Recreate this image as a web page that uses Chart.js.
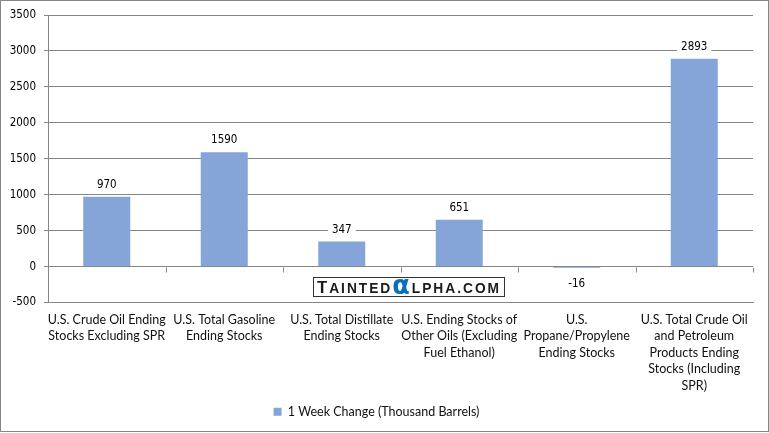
<!DOCTYPE html>
<html>
<head>
<meta charset="utf-8">
<script src="https://cdn.jsdelivr.net/npm/chart.js@4"></script>
<style>
  html, body { margin: 0; padding: 0; background: #fff; }
  #wrap { width: 769px; height: 433px; }
</style>
</head>
<body>
<div id="wrap"><canvas id="stocksChart"></canvas></div>
<script>
const categories = [
  ["U.S. Crude Oil Ending", "Stocks Excluding SPR"],
  ["U.S. Total Gasoline", "Ending Stocks"],
  ["U.S. Total Distillate", "Ending Stocks"],
  ["U.S. Ending Stocks of", "Other Oils (Excluding", "Fuel Ethanol)"],
  ["U.S.", "Propane/Propylene", "Ending Stocks"],
  ["U.S. Total Crude Oil", "and Petroleum", "Products Ending", "Stocks (Including", "SPR)"]
];
const weekChange = [970, 1590, 347, 651, -16, 2893];
const seriesName = "1 Week Change (Thousand Barrels)";
const yMin = -500;
const yMax = 3500;
const yStep = 500;

const gridGrey = "#868686";
const numFont = "'DejaVu Sans Condensed', 'DejaVu Sans', sans-serif";
const catFont = "Lato, 'Open Sans', sans-serif";

// white background + thin frame round the whole picture
const frame = {
  id: "frame",
  beforeDraw(chart) {
    const c = chart.ctx;
    c.save();
    c.fillStyle = "#fff";
    c.fillRect(0, 0, chart.width, chart.height);
    c.strokeStyle = gridGrey;
    c.lineWidth = 1;
    c.strokeRect(0.5, 0.5, chart.width - 1, chart.height - 2);
    c.restore();
  }
};

// small tick marks under the zero line, at the category boundaries
const zeroTicks = {
  id: "zeroTicks",
  afterDraw(chart) {
    const x = chart.scales.x, y = chart.scales.y;
    const y0 = Math.round(y.getPixelForValue(0)) + 0.5;
    const half = (x.getPixelForValue(1) - x.getPixelForValue(0)) / 2;
    const c = chart.ctx;
    c.save();
    c.strokeStyle = gridGrey;
    c.lineWidth = 1;
    c.beginPath();
    for (let i = 1; i <= categories.length; i++) {
      const px = Math.round(x.getPixelForValue(i) - half) + 0.5;
      c.moveTo(px, y0);
      c.lineTo(px, y0 + 5);
    }
    c.stroke();
    c.restore();
  }
};

// value labels with a white box, like Excel
const valueLabels = {
  id: "valueLabels",
  afterDatasetsDraw(chart) {
    const c = chart.ctx;
    const meta = chart.getDatasetMeta(0);
    c.save();
    c.font = "11.5px " + numFont;
    c.textAlign = "center";
    c.textBaseline = "middle";
    meta.data.forEach((bar, i) => {
      const v = weekChange[i];
      const ty = v >= 0 ? bar.y - 12 : bar.y + 16;
      const txt = String(v);
      const w = c.measureText(txt).width + 8;
      c.fillStyle = "#fff";
      c.fillRect(bar.x - w / 2, ty - 7, w, 14);
      c.fillStyle = "#000";
      c.fillText(txt, bar.x, ty);
    });
    c.restore();
  }
};

// TaintedAlpha watermark box
const watermark = {
  id: "watermark",
  afterDraw(chart) {
    const c = chart.ctx;
    const bx = 313, by = 277, bw = 192, bh = 20;
    c.save();
    c.fillStyle = "#fff";
    c.fillRect(bx, by, bw, bh);
    c.strokeStyle = "#333";
    c.lineWidth = 1;
    c.strokeRect(bx + 0.5, by + 0.5, bw - 1, bh - 1);
    const parts = [
      { t: "T", f: "bold 17px 'Liberation Sans', Arial, sans-serif", col: "#1a1a1a" },
      { t: "AINTED", f: "bold 14px 'Liberation Sans', Arial, sans-serif", col: "#1a1a1a" },
      { t: "\u03b1", f: "bold 26px 'DejaVu Sans', sans-serif", col: "#0a6fc2" },
      { t: "LPHA.COM", f: "bold 14px 'Liberation Sans', Arial, sans-serif", col: "#1a1a1a" }
    ];
    c.letterSpacing = "2px";
    let total = 0;
    parts.forEach(p => { c.font = p.f; p.w = c.measureText(p.t).width; total += p.w; });
    const target = 184;
    const sx = target / total;
    c.translate(bx + (bw - target) / 2, by + 16);
    c.scale(sx, 1);
    let cx = 0;
    parts.forEach(p => {
      c.font = p.f;
      c.fillStyle = p.col;
      c.textBaseline = "alphabetic";
      c.fillText(p.t, cx, p.t === "\u03b1" ? 1 : 0);
      cx += p.w;
    });
    c.restore();
  }
};

const ctx = document.getElementById("stocksChart").getContext("2d");

const chart = new Chart(ctx, {
  type: "bar",
  data: {
    labels: categories,
    datasets: [{
      label: seriesName,
      data: weekChange,
      backgroundColor: "#85A5D8",
      borderWidth: 0,
      barPercentage: 0.4,
      categoryPercentage: 1
    }]
  },
  options: {
    responsive: true,
    maintainAspectRatio: false,
    animation: false,
    layout: { padding: { left: 0, right: 16, top: 15, bottom: 5 } },
    scales: {
      x: {
        grid: { display: false, drawTicks: false },
        border: { color: gridGrey },
        ticks: {
          color: "#111",
          font: { family: catFont, size: 12.5, lineHeight: 1.32 },
          padding: 9,
          maxRotation: 0,
          autoSkip: false
        },
        afterFit(scale) { scale.height = 93; }
      },
      y: {
        min: yMin,
        max: yMax,
        grid: { color: gridGrey, tickLength: 4 },
        border: { color: gridGrey },
        ticks: {
          stepSize: yStep,
          color: "#000",
          padding: 8,
          font: { family: numFont, size: 11.5 },
          callback: (v) => String(v)
        },
        afterFit(scale) { scale.width = 48; }
      }
    },
    plugins: {
      legend: {
        position: "bottom",
        labels: {
          boxWidth: 8,
          boxHeight: 8,
          padding: 10,
          color: "#111",
          font: { family: catFont, size: 12.5 }
        }
      },
      tooltip: { enabled: false }
    }
  },
  plugins: [frame, valueLabels, zeroTicks, watermark]
});
</script>
</body>
</html>
